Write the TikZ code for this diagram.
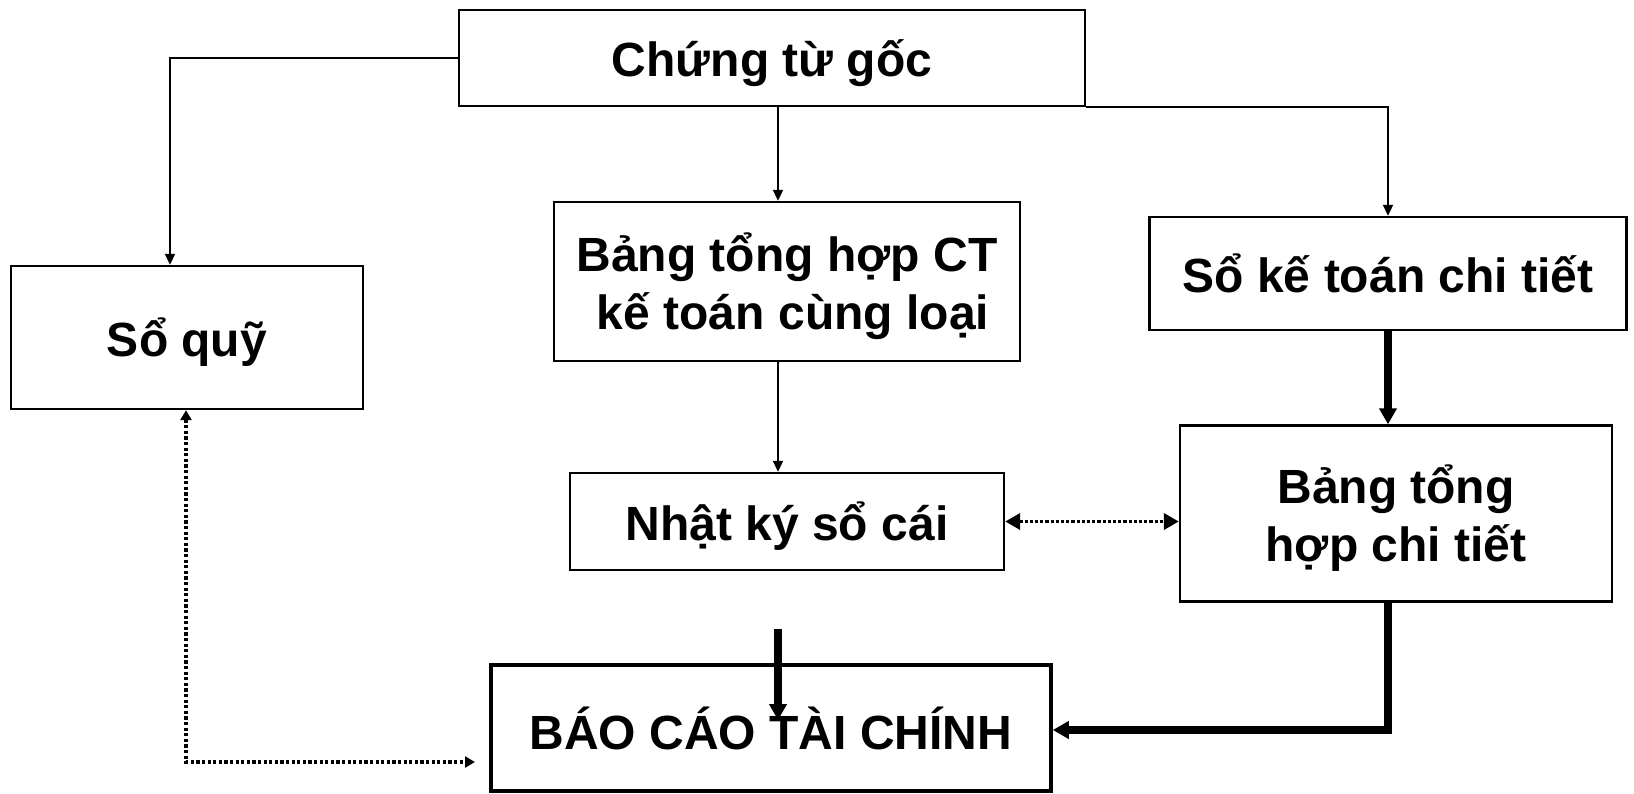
\documentclass[tikz,border=0pt]{standalone}
\usepackage{fontspec}
\setmainfont{Liberation Sans}
\usetikzlibrary{arrows.meta}

\tikzset{
  box/.style={draw, line width=1.2pt, inner sep=0pt, align=center, text depth=0pt,
              font=\bfseries\fontsize{24}{29}\selectfont},
  thin/.style={line width=1pt, -{Triangle[length=5.5pt,width=5pt]}},
  heavy/.style={line width=4pt, -{Triangle[length=8pt,width=8.5pt]}},
  dots/.style={line width=1.8pt, dash pattern=on 1.6pt off 1.2pt,
               {Triangle[length=5pt,width=5.5pt]}-{Triangle[length=5pt,width=5.5pt]}},
  dotsbig/.style={line width=1.8pt, dash pattern=on 1.6pt off 1pt,
               {Triangle[length=7.5pt,width=8pt]}-{Triangle[length=7.5pt,width=8pt]}}
}

\begin{document}
\begin{tikzpicture}[x=0.5pt,y=-0.5pt]
\useasboundingbox (0,0) rectangle (1634,793);

% boxes
\node[box, minimum width=313pt, minimum height=48pt] (goc) at (772,58) {Chứng từ gốc};
\node[box, minimum width=176pt, minimum height=71.5pt] (soquy) at (187,337.5) {Sổ quỹ};
\node[box, minimum width=233pt, minimum height=79.5pt] (bangct) at (787,281.5) {Bảng tổng hợp CT\\ \hspace*{0.25em}kế toán cùng loại};
\node[box, minimum width=238.5pt, minimum height=56.5pt] (soketoan) at (1388,273.5) {Sổ kế toán chi tiết};
\node[box, minimum width=217pt, minimum height=48.5pt] (nhatky) at (787,521.5) {Nhật ký sổ cái};
\node[box, minimum width=216pt, minimum height=88pt] (bangth) at (1396,513.5) {Bảng tổng\\ hợp chi tiết};
\node[box, line width=1.8pt, minimum width=280pt, minimum height=63pt] (baocao) at (771,728) {BÁO CÁO TÀI CHÍNH};

% helper points
\coordinate (gocR) at (goc.south east);
\coordinate (bcIn) at (778,629);
\coordinate (bcTip) at (778,720);
\coordinate (sqEnd) at (475,762);

% thin connectors from the source documents
\draw[thin] (goc.west |- 0,58) -| (170,0 |- soquy.north);
\draw[thin] (778,0 |- goc.south) -- (778,0 |- bangct.north);
\draw[thin] (gocR) -| (1388,0 |- soketoan.north);
\draw[thin] (778,0 |- bangct.south) -- (778,0 |- nhatky.north);

% heavy connectors
\draw[heavy] (1388,0 |- soketoan.south) -- (1388,0 |- bangth.north);
\draw[heavy] (1388,0 |- bangth.south) |- (baocao.east |- 0,730);
\draw[heavy] (bcIn) -- (bcTip);

% dotted reconciliation links
\draw[dotsbig] (nhatky.east) -- (bangth.west |- nhatky.east);
\draw[dots] (186,0 |- soquy.south) |- (sqEnd);
\end{tikzpicture}
\end{document}
